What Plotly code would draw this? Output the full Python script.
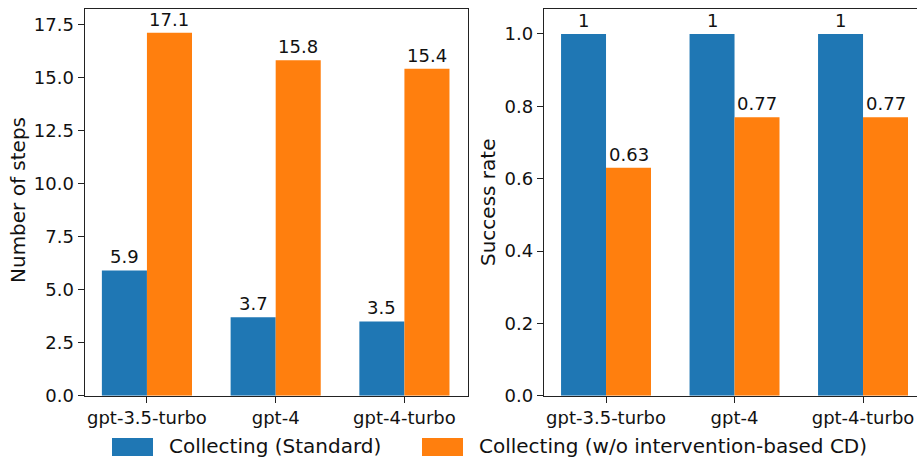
import plotly.graph_objects as go

models = ["gpt-3.5-turbo", "gpt-4", "gpt-4-turbo"]
steps_standard = [5.9, 3.7, 3.5]
steps_wo_cd = [17.1, 15.8, 15.4]
succ_standard = [1, 1, 1]
succ_wo_cd = [0.63, 0.77, 0.77]
series_names = ["Collecting (Standard)", "Collecting (w/o intervention-based CD)"]
colors = ["#1f77b4", "#ff7f0e"]

W, H = 917, 457
FONT = "DejaVu Sans"
TXT = "#111111"
TICK_SIZE = 18

def fx(px):
    return px / W

def fy(py):
    return 1 - py / H

fig = go.Figure()
xs = list(range(len(models)))
BW = 0.35

def fmt(v):
    return "%g" % v

panels = [("x", "y", steps_standard, steps_wo_cd), ("x2", "y2", succ_standard, succ_wo_cd)]
for xa, ya, s1, s2 in panels:
    for k, (vals, name, col) in enumerate([(s1, series_names[0], colors[0]), (s2, series_names[1], colors[1])]):
        off = -BW / 2 if k == 0 else BW / 2
        fig.add_trace(go.Bar(x=[i + off for i in xs], y=vals, width=BW, name=name,
                             marker=dict(color=col, line=dict(width=0)),
                             xaxis=xa, yaxis=ya, showlegend=False, hoverinfo="y"))
        for i, v in zip(xs, vals):
            fig.add_annotation(x=i + off, y=v, xref=xa, yref=ya, text=fmt(v), showarrow=False,
                               yanchor="bottom", xanchor="center", yshift=1,
                               font=dict(family=FONT, size=TICK_SIZE, color=TXT))

axis_common = dict(showgrid=False, zeroline=False, ticks="outside", ticklen=6, tickwidth=1,
                   tickcolor="#222", linecolor="#222", linewidth=1, automargin=False,
                   tickfont=dict(family=FONT, size=TICK_SIZE, color=TXT))

fig.update_layout(
    width=W, height=H,
    margin=dict(l=0, r=0, t=0, b=0),
    plot_bgcolor="white", paper_bgcolor="white",
    barmode="overlay",
    font=dict(family=FONT, color=TXT),
    xaxis=dict(domain=[fx(84.5), fx(467.5)], range=[-0.485, 2.49], tickvals=xs, ticktext=models,
               showline=True, mirror=True, anchor="y", **axis_common),
    yaxis=dict(domain=[fy(395.7), fy(9)], range=[0, 18.22], tickvals=[0, 2.5, 5, 7.5, 10, 12.5, 15, 17.5],
               tickformat=".1f", showline=True, mirror=True, anchor="x", **axis_common),
    xaxis2=dict(domain=[fx(543.7), 1.0], range=[-0.485, 2.42], tickvals=xs, ticktext=models,
                showline=True, mirror=True, anchor="y2", **axis_common),
    yaxis2=dict(domain=[fy(395.7), fy(9)], range=[0, 1.069], tickvals=[0, 0.2, 0.4, 0.6, 0.8, 1.0],
                tickformat=".1f", showline=True, mirror=False, anchor="x2", **axis_common),
)

# Axis titles
fig.add_annotation(xref="paper", yref="paper", x=fx(18), y=fy(200), text="Number of steps", showarrow=False,
                   textangle=-90, xanchor="center", yanchor="middle", font=dict(family=FONT, size=20, color=TXT))
fig.add_annotation(xref="paper", yref="paper", x=fx(488), y=fy(202), text="Success rate", showarrow=False,
                   textangle=-90, xanchor="center", yanchor="middle", font=dict(family=FONT, size=20, color=TXT))

# Legend drawn manually at bottom
legend_items = [(112, 153, 169, series_names[0], colors[0]), (422, 463, 479, series_names[1], colors[1])]
for x0, x1, tx, name, col in legend_items:
    fig.add_shape(type="rect", xref="paper", yref="paper", x0=fx(x0), x1=fx(x1), y0=fy(456), y1=fy(438),
                  fillcolor=col, line=dict(width=0))
    fig.add_annotation(xref="paper", yref="paper", x=fx(tx - 2), y=fy(446), text=name, showarrow=False,
                       xanchor="left", yanchor="middle", font=dict(family=FONT, size=20, color=TXT))

fig.write_html("out.html", config={"displayModeBar": False},
               post_script="document.body.style.margin='0';document.body.style.overflow='hidden';")
